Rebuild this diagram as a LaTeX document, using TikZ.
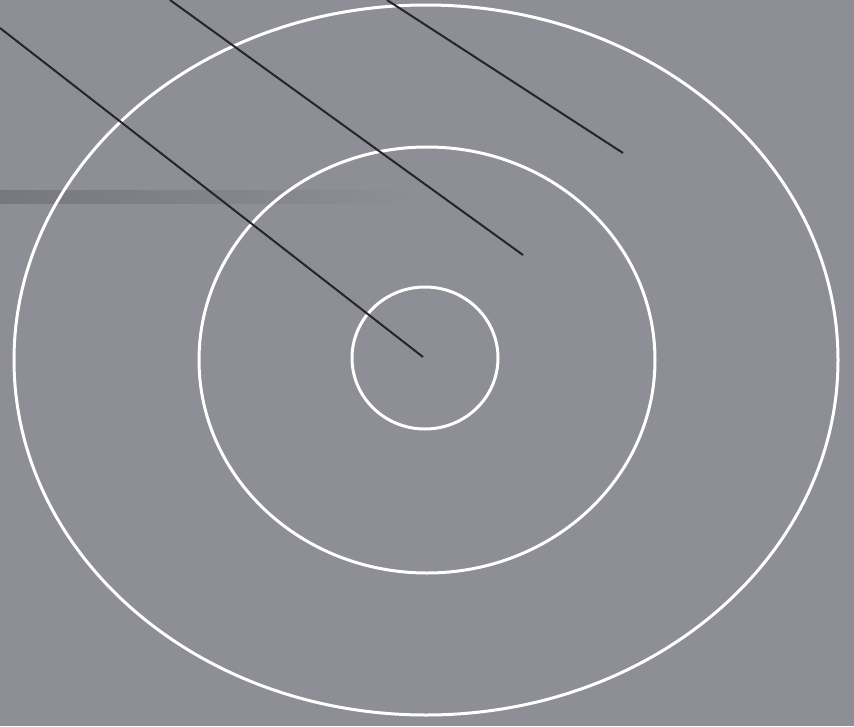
\documentclass[tikz,border=0pt]{standalone}
\definecolor{bg}{RGB}{141,142,150}
\definecolor{bgdark}{RGB}{118,119,127}
\begin{document}
\begin{tikzpicture}[x=1pt,y=-1pt,
  ring/.style={draw=white,line width=3pt},
  rod/.style={draw=black!85,line width=2pt}]
\fill[bg] (0,0) rectangle (854,726);
\useasboundingbox (0,0) rectangle (854,726);
\shade[left color=bgdark, right color=bg] (0,190) rectangle (420,203);
\draw[ring] (426,360) ellipse [x radius=412, y radius=355];
\draw[ring] (427,360) ellipse [x radius=228, y radius=213];
\draw[ring] (425,358) ellipse [x radius=73, y radius=71];
\coordinate (a1) at (0,28);   \coordinate (b1) at (423,357);
\coordinate (a2) at (170,0);  \coordinate (b2) at (523,255);
\coordinate (a3) at (387,0);  \coordinate (b3) at (623,153);
\draw[rod] (a1) -- (b1);
\draw[rod] (a2) -- (b2);
\draw[rod] (a3) -- (b3);
\end{tikzpicture}
\end{document}
